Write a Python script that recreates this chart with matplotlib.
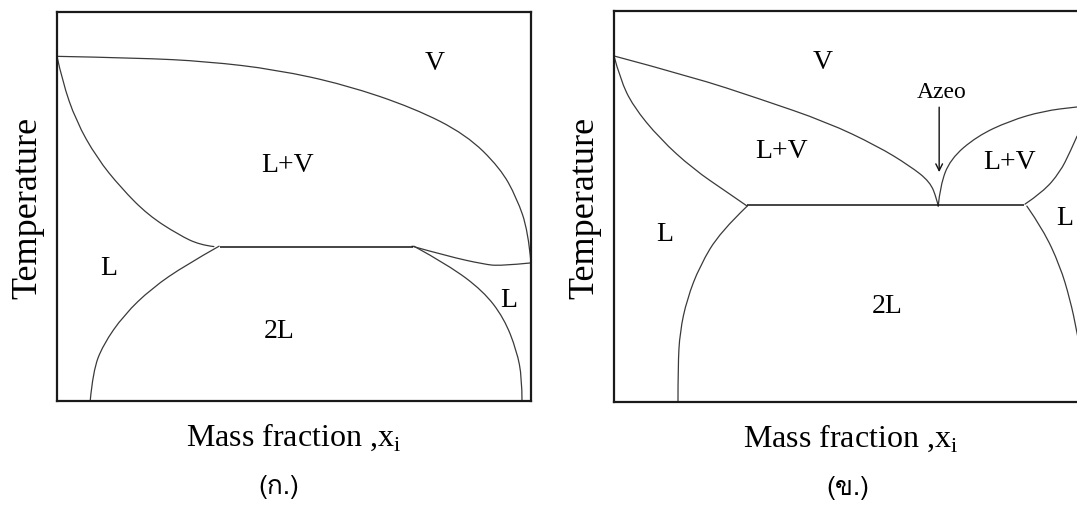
import matplotlib
matplotlib.use("Agg")
import matplotlib.pyplot as plt
from matplotlib import font_manager
from matplotlib.ft2font import FT2Font
from matplotlib.path import Path
from matplotlib.patches import PathPatch

# ---- phase-boundary data (x = mass fraction, T = reduced temperature) ----
# Diagram (a): heterogeneous system, no azeotrope
a_dew_x = [0.0, 0.171, 0.316, 0.462, 0.608, 0.753, 0.863, 0.935, 0.970, 0.994, 1.0]
a_dew_T = [0.886, 0.882, 0.873, 0.852, 0.813, 0.753, 0.685, 0.599, 0.522, 0.437, 0.355]
a_bub_left_x = [0.0, 0.011, 0.040, 0.084, 0.135, 0.192, 0.257, 0.302, 0.331]
a_bub_left_T = [0.886, 0.823, 0.720, 0.625, 0.548, 0.478, 0.427, 0.401, 0.397]
a_bub_right_x = [0.749, 0.825, 0.899, 0.935, 1.0]
a_bub_right_T = [0.398, 0.372, 0.352, 0.347, 0.355]
a_sol_left_x = [0.342, 0.272, 0.200, 0.141, 0.097, 0.076, 0.070]
a_sol_left_T = [0.398, 0.350, 0.290, 0.221, 0.144, 0.077, 0.0]
a_sol_right_x = [0.753, 0.825, 0.899, 0.943, 0.970, 0.981, 0.981]
a_sol_right_T = [0.398, 0.350, 0.283, 0.213, 0.129, 0.059, 0.0]
a_three_x = [0.344, 0.751]
a_three_T = 0.397

# Diagram (b): heterogeneous azeotrope
b_dew_left_x = [0.0, 0.167, 0.308, 0.449, 0.555, 0.624, 0.667, 0.681, 0.684]
b_dew_left_T = [0.885, 0.831, 0.775, 0.716, 0.655, 0.604, 0.563, 0.519, 0.501]
b_bub_left_x = [0.0, 0.013, 0.040, 0.097, 0.167, 0.238, 0.281]
b_bub_left_T = [0.885, 0.826, 0.757, 0.673, 0.596, 0.537, 0.501]
b_sol_left_x = [0.281, 0.224, 0.181, 0.154, 0.139, 0.135, 0.135]
b_sol_left_T = [0.501, 0.435, 0.348, 0.263, 0.179, 0.092, 0.0]
b_dew_right_x = [0.684, 0.688, 0.709, 0.766, 0.835, 0.905, 0.977, 1.0]
b_dew_right_T = [0.501, 0.552, 0.621, 0.680, 0.719, 0.744, 0.755, 0.757]
b_bub_right_x = [0.867, 0.905, 0.941, 0.962, 0.977]
b_bub_right_T = [0.506, 0.537, 0.588, 0.639, 0.680]
b_sol_right_x = [0.871, 0.905, 0.941, 0.962, 0.977, 0.99]
b_sol_right_T = [0.501, 0.442, 0.348, 0.263, 0.179, 0.09]
b_three_x = [0.281, 0.865]
b_three_T = 0.503
azeo_x = 0.686
azeo_T = 0.588
azeo_arrow_top = 0.754
azeo_text_x = 0.692
azeo_text_T = 0.795

# region labels: (text, x, T)
a_labels = [("V", 0.797, 0.869), ("L+V", 0.487, 0.607), ("L", 0.110, 0.342),
            ("L", 0.954, 0.260), ("2L", 0.468, 0.180)]
b_labels = [("V", 0.441, 0.872), ("L+V", 0.354, 0.642), ("L+V", 0.835, 0.614),
            ("L", 0.951, 0.473), ("L", 0.108, 0.430), ("2L", 0.576, 0.246)]

captions = ["(ก.)", "(ข.)"]
xlabel = "Mass fraction ,x$_\\mathrm{i}$"
ylabel = "Temperature"


def thai_family():
    # pick an installed font that carries the Thai block
    for f in font_manager.fontManager.ttflist:
        try:
            if 0x0E01 in FT2Font(f.fname).get_charmap():
                return f.name
        except Exception:
            continue
    return "DejaVu Sans"


SERIF = "Liberation Serif"
plt.rcParams["mathtext.fontset"] = "custom"
plt.rcParams["mathtext.rm"] = SERIF
plt.rcParams["font.family"] = [SERIF, "DejaVu Serif"]

W, H = 1077, 506
fig = plt.figure(figsize=(W / 100, H / 100), dpi=100)
fig.patch.set_facecolor("white")

ax_a = fig.add_axes([57 / W, (H - 402) / H, 474 / W, 389 / H])
ax_b = fig.add_axes([614 / W, (H - 403) / H, 474 / W, 391 / H])

LC = "#3a3a3a"
LW = 0.9


def frame(ax):
    ax.set_xlim(0, 1)
    ax.set_ylim(0, 1)
    ax.set_xticks([])
    ax.set_yticks([])
    for s in ax.spines.values():
        s.set_linewidth(1.6)
        s.set_color("#1a1a1a")


def curve(ax, x, y):
    # smooth quadratic-Bezier path through the boundary points
    pts = list(zip(x, y))
    verts = [pts[0]]
    codes = [Path.MOVETO]
    if len(pts) == 2:
        verts.append(pts[1])
        codes.append(Path.LINETO)
    else:
        for i in range(1, len(pts) - 1):
            if i == len(pts) - 2:
                end = pts[-1]
            else:
                end = ((pts[i][0] + pts[i + 1][0]) / 2, (pts[i][1] + pts[i + 1][1]) / 2)
            verts += [pts[i], end]
            codes += [Path.CURVE3, Path.CURVE3]
    ax.add_patch(PathPatch(Path(verts, codes), facecolor="none",
                           edgecolor=LC, lw=LW, capstyle="round"))


frame(ax_a)
curve(ax_a, a_dew_x, a_dew_T)
curve(ax_a, a_bub_left_x, a_bub_left_T)
curve(ax_a, a_bub_right_x, a_bub_right_T)
curve(ax_a, a_sol_left_x, a_sol_left_T)
curve(ax_a, a_sol_right_x, a_sol_right_T)
ax_a.hlines(a_three_T, *a_three_x, color="#111111", lw=1.1)
for t, x, y in a_labels:
    ax_a.text(x, y, t, fontsize=20, ha="center", va="center")

frame(ax_b)
curve(ax_b, b_dew_left_x, b_dew_left_T)
curve(ax_b, b_bub_left_x, b_bub_left_T)
curve(ax_b, b_sol_left_x, b_sol_left_T)
curve(ax_b, b_dew_right_x, b_dew_right_T)
curve(ax_b, b_bub_right_x, b_bub_right_T)
curve(ax_b, b_sol_right_x, b_sol_right_T)
ax_b.hlines(b_three_T, *b_three_x, color="#111111", lw=1.1)
for t, x, y in b_labels:
    ax_b.text(x, y, t, fontsize=20, ha="center", va="center")
ax_b.text(azeo_text_x, azeo_text_T, "Azeo", fontsize=17, ha="center", va="center")
ax_b.annotate("", xy=(azeo_x, azeo_T), xytext=(azeo_x, azeo_arrow_top),
              arrowprops=dict(arrowstyle="->", color="#111111", lw=1.0,
                              shrinkA=0, shrinkB=0, mutation_scale=12))

thai = thai_family()
for ax in (ax_a, ax_b):
    ax.set_ylabel(ylabel, fontsize=26, labelpad=9)
    ax.set_xlabel(xlabel, fontsize=23, labelpad=14)

fig.text(279 / W, 1 - 487 / H, captions[0], fontsize=19, ha="center", va="center",
         family=[thai, "DejaVu Sans"])
fig.text(848 / W, 1 - 488 / H, captions[1], fontsize=19, ha="center", va="center",
         family=[thai, "DejaVu Sans"])

fig.savefig("out.png", dpi=100, facecolor="white")
